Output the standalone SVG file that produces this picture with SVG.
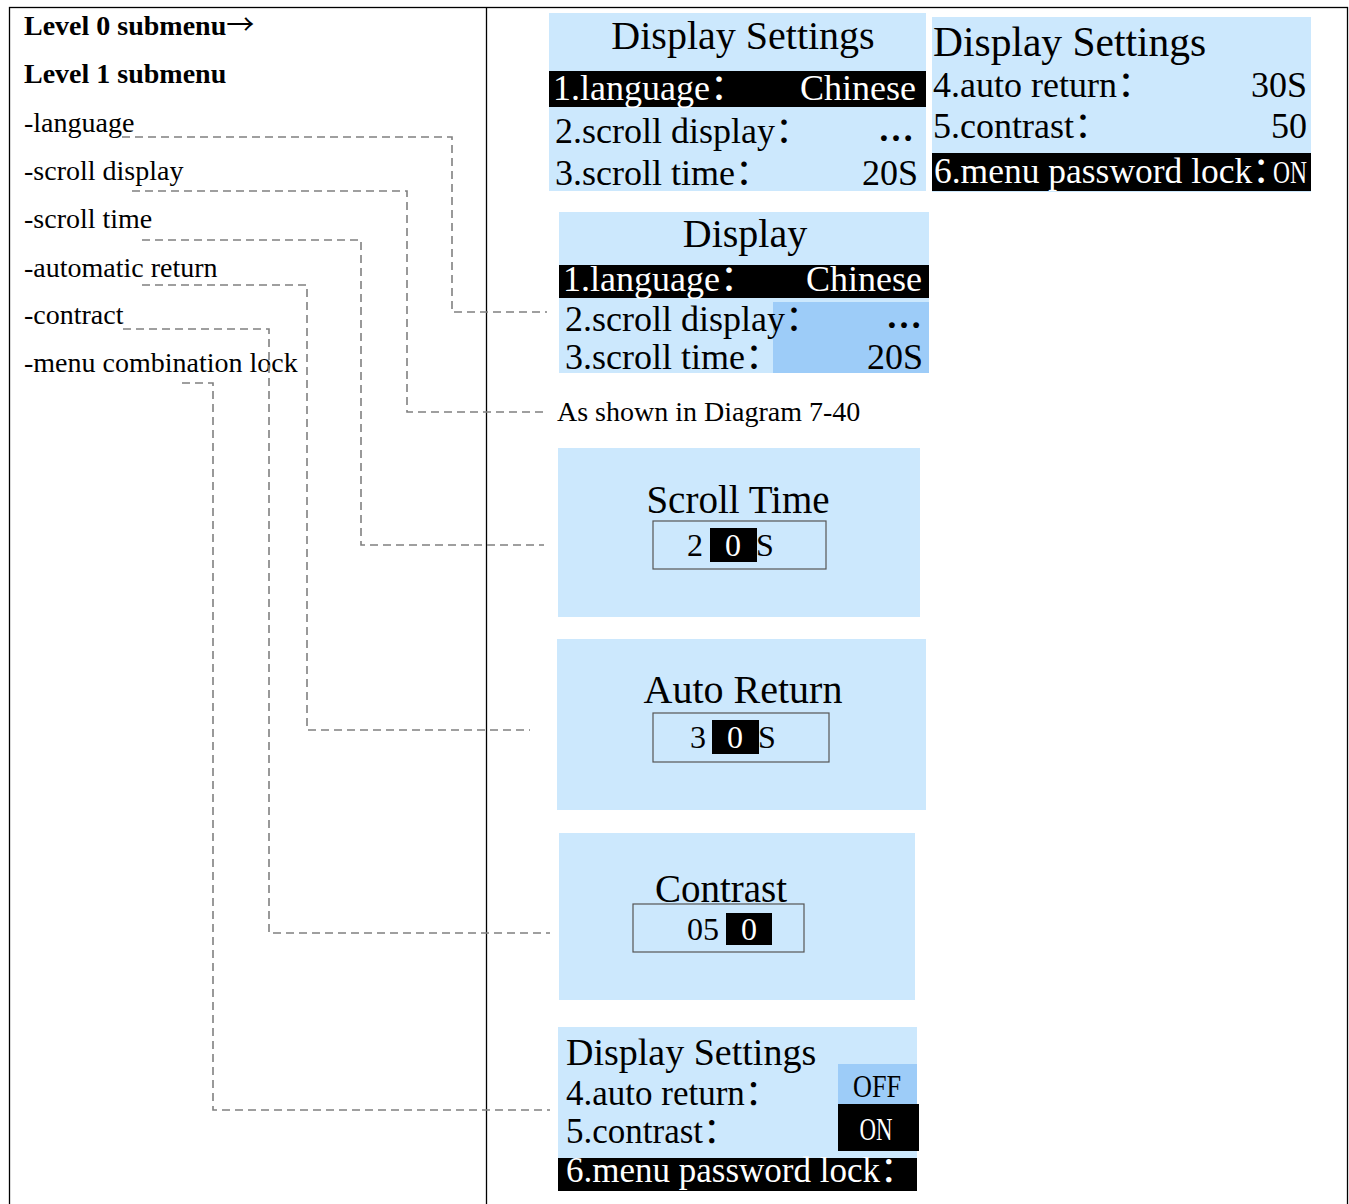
<svg xmlns="http://www.w3.org/2000/svg" width="1349" height="1204" viewBox="0 0 1349 1204">
<style>
.lbl{font-family:"Liberation Serif","Noto Sans CJK SC",serif;font-size:28px;fill:#000}
.b{font-weight:bold}
.arr{font-family:"Noto Sans CJK SC",sans-serif;font-weight:normal}
.scr{fill:#CCE8FD}
.hl{fill:#9DCCF8}
.blk{fill:#000}
.t{font-family:"Liberation Serif","Noto Sans CJK SC",serif;font-size:36px;fill:#000;font-feature-settings:"halt"}
.ttl{font-family:"Liberation Serif",serif;font-size:40px;fill:#000}
.num{font-family:"Liberation Serif",serif;font-size:32px;fill:#000}
.dots{font-weight:bold}
.box{fill:none;stroke:#555;stroke-width:1.2}
.conn{fill:none;stroke:#808080;stroke-width:1.6;stroke-dasharray:8 5}
.frame{fill:none;stroke:#000;stroke-width:1.3}
.w{fill:#fff}
</style>
<rect width="1349" height="1204" fill="#fff"/>
<g id="table">
<rect class="frame" x="9.5" y="7.5" width="1338" height="1220"/>
<line class="frame" x1="486.5" y1="7.5" x2="486.5" y2="1204"/>
</g>
<g id="left-labels">
<text class="lbl b" x="24" y="35">Level 0 submenu<tspan class="arr">→</tspan></text>
<text class="lbl b" x="24" y="83">Level 1 submenu</text>
<g id="lbl-language"><text class="lbl" x="24" y="132">-language</text></g>
<g id="lbl-scroll-display"><text class="lbl" x="24" y="180">-scroll display</text></g>
<g id="lbl-scroll-time"><text class="lbl" x="24" y="228">-scroll time</text></g>
<g id="lbl-auto-return"><text class="lbl" x="24" y="277">-automatic return</text></g>
<g id="lbl-contract"><text class="lbl" x="24" y="324">-contract</text></g>
<g id="lbl-menu-lock"><text class="lbl" x="24" y="372">-menu combination lock</text></g>
</g>
<g id="connectors">
<path class="conn" d="M122,137 H452 V312 H547"/>
<path class="conn" d="M132,191 H407 V412 H548"/>
<path class="conn" d="M142,240 H361 V545 H544"/>
<path class="conn" d="M142,285 H307 V730 H530"/>
<path class="conn" d="M123,329 H269 V933 H550"/>
<path class="conn" d="M182,383 H213 V1110 H550"/>
</g>
<g id="screen-display-settings-1">
<rect class="scr" x="549" y="13" width="377" height="178"/>
<text class="ttl" x="743" y="49" text-anchor="middle">Display Settings</text>
<rect class="blk" x="549" y="71" width="377" height="36"/>
<text class="t w" x="553" y="100">1.language：</text>
<text class="t w" x="916" y="100" text-anchor="end">Chinese</text>
<text class="t" x="555" y="143">2.scroll display：</text>
<text class="t dots" x="914" y="141" text-anchor="end">…</text>
<text class="t" x="555" y="185">3.scroll time：</text>
<text class="t" x="918" y="185" text-anchor="end">20S</text>
</g>
<g id="screen-display-settings-2">
<rect class="scr" x="932" y="17" width="379" height="175"/>
<text class="ttl" x="933" y="56" style="font-size:41.5px">Display Settings</text>
<text class="t" x="933" y="97">4.auto return：</text>
<text class="t" x="1307" y="97" text-anchor="end">30S</text>
<text class="t" x="933" y="138">5.contrast：</text>
<text class="t" x="1307" y="138" text-anchor="end">50</text>
<rect class="blk" x="932" y="153" width="379" height="38"/>
<text class="t w" x="934" y="183" textLength="336" lengthAdjust="spacingAndGlyphs">6.menu password lock：</text>
<text class="num w" x="1273" y="183" textLength="34" lengthAdjust="spacingAndGlyphs">ON</text>
</g>
<g id="screen-display">
<rect class="scr" x="559" y="212" width="370" height="161"/>
<text class="ttl" x="745" y="247" text-anchor="middle">Display</text>
<rect class="blk" x="559" y="265" width="370" height="33"/>
<text class="t w" x="563" y="291">1.language：</text>
<text class="t w" x="922" y="291" text-anchor="end">Chinese</text>
<rect class="hl" x="773" y="302" width="156" height="71"/>
<text class="t" x="565" y="331">2.scroll display：</text>
<text class="t dots" x="922" y="328" text-anchor="end">…</text>
<text class="t" x="565" y="369">3.scroll time：</text>
<text class="t" x="923" y="369" text-anchor="end">20S</text>
</g>
<g id="note-scroll-display">
<text class="lbl" x="557" y="421">As shown in Diagram 7-40</text>
</g>
<g id="screen-scroll-time">
<rect class="scr" x="558" y="448" width="362" height="169"/>
<text class="ttl" x="738" y="513" text-anchor="middle" style="font-size:39px">Scroll Time</text>
<rect class="box" x="653" y="521" width="173" height="48"/>
<text class="num" x="695" y="556" text-anchor="middle">2</text>
<rect class="blk" x="710" y="528" width="47" height="34"/>
<text class="num w" x="733" y="556" text-anchor="middle">0</text>
<text class="num" x="765" y="556" text-anchor="middle">S</text>
</g>
<g id="screen-auto-return">
<rect class="scr" x="557" y="639" width="369" height="171"/>
<text class="ttl" x="743" y="703" text-anchor="middle">Auto Return</text>
<rect class="box" x="653" y="713" width="176" height="49"/>
<text class="num" x="698" y="748" text-anchor="middle">3</text>
<rect class="blk" x="712" y="720" width="47" height="34"/>
<text class="num w" x="735" y="748" text-anchor="middle">0</text>
<text class="num" x="767" y="748" text-anchor="middle">S</text>
</g>
<g id="screen-contrast">
<rect class="scr" x="559" y="833" width="356" height="167"/>
<text class="ttl" x="721" y="902" text-anchor="middle" style="font-size:39px">Contrast</text>
<rect class="box" x="633" y="904" width="171" height="48"/>
<text class="num" x="703" y="940" text-anchor="middle">05</text>
<rect class="blk" x="726" y="913" width="46" height="32"/>
<text class="num w" x="749" y="940" text-anchor="middle">0</text>
</g>
<g id="screen-menu-lock">
<rect class="scr" x="558" y="1027" width="359" height="131"/>
<text class="ttl" x="566" y="1065" style="font-size:38px">Display Settings</text>
<text class="t" x="566" y="1105" style="font-size:35px">4.auto return：</text>
<text class="t" x="566" y="1143" style="font-size:35px">5.contrast：</text>
<rect class="hl" x="838" y="1064" width="79" height="40"/>
<text class="num" x="877" y="1097" text-anchor="middle" textLength="48" lengthAdjust="spacingAndGlyphs">OFF</text>
<rect class="blk" x="838" y="1104" width="81" height="47"/>
<text class="num w" x="876" y="1140" text-anchor="middle" textLength="33" lengthAdjust="spacingAndGlyphs">ON</text>
<rect class="blk" x="558" y="1158" width="359" height="33"/>
<text class="t w" x="566" y="1182" style="font-size:35px">6.menu password lock：</text>
</g>
</svg>
